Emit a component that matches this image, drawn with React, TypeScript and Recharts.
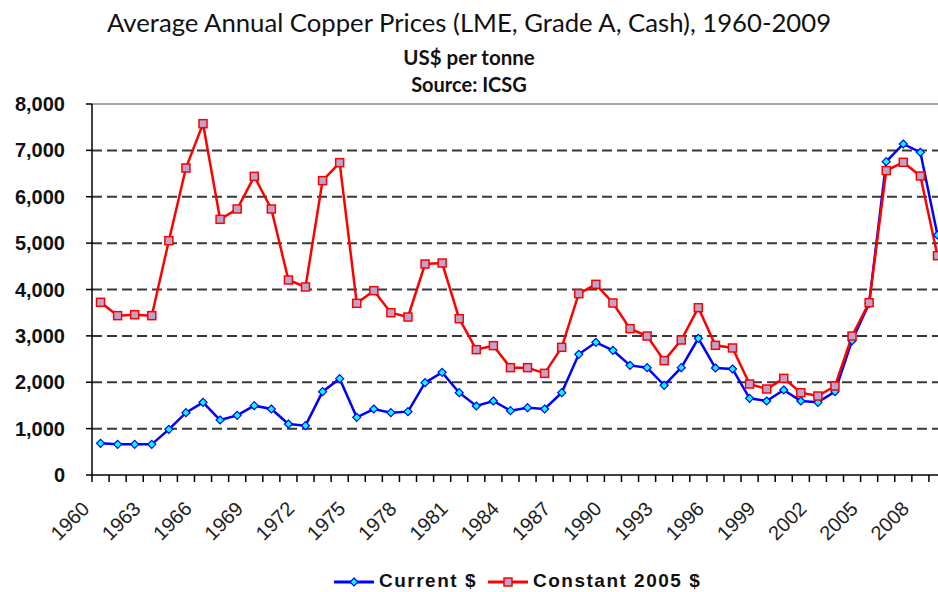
import React from 'react';
import { LineChart, Line, XAxis, YAxis, ReferenceLine } from 'recharts';

const years = [
  1960, 1961, 1962, 1963, 1964, 1965, 1966, 1967, 1968, 1969,
  1970, 1971, 1972, 1973, 1974, 1975, 1976, 1977, 1978, 1979,
  1980, 1981, 1982, 1983, 1984, 1985, 1986, 1987, 1988, 1989,
  1990, 1991, 1992, 1993, 1994, 1995, 1996, 1997, 1998, 1999,
  2000, 2001, 2002, 2003, 2004, 2005, 2006, 2007, 2008, 2009,
];

const currentPrices = [
  683, 661, 661, 661, 985, 1344, 1567, 1186, 1286, 1495,
  1423, 1100, 1064, 1797, 2078, 1243, 1423, 1344, 1366, 1991,
  2214, 1775, 1488, 1596, 1387, 1452, 1423, 1775, 2602, 2861,
  2688, 2364, 2315, 1934, 2315, 2947, 2307, 2286, 1653, 1596,
  1833, 1596, 1567, 1797, 2897, 3702, 6757, 7138, 6958, 5175,
];

const constantPrices = [
  3724, 3436, 3457, 3436, 5053, 6620, 7576, 5513, 5736, 6440,
  5736, 4205, 4054, 6347, 6735, 3702, 3975, 3500, 3407, 4550,
  4571, 3371, 2703, 2789, 2315, 2315, 2192, 2753, 3910, 4111,
  3709, 3156, 2997, 2466, 2911, 3608, 2796, 2739, 1962, 1854,
  2084, 1775, 1703, 1919, 2997, 3716, 6563, 6743, 6448, 4729,
];

const yTicks = [0, 1000, 2000, 3000, 4000, 5000, 6000, 7000, 8000];
const dashedGridValues = [1000, 2000, 3000, 4000, 5000, 6000, 7000];
const topBorderValue = 8000;
const xLabelYears = [1960, 1963, 1966, 1969, 1972, 1975, 1978, 1981, 1984, 1987, 1990, 1993, 1996, 1999, 2002, 2005, 2008];

const seriesNames = { current: 'Current $', constant: 'Constant 2005 $' };

const BLUE = '#0000FF';
const CYAN = '#00FFFF';
const RED = '#FF0000';
const LAVENDER = '#BFA3CF';

const data = years.map((year, i) => ({ year, current: currentPrices[i], constant: constantPrices[i] }));
const boundaryTicks = [...years.map((y) => y - 0.5), years[years.length - 1] + 0.5];
const xTicks = [...boundaryTicks, ...xLabelYears].sort((a, b) => a - b);

const FONT = '"Liberation Sans", Arial, sans-serif';

const XTick = (props: any) => {
  const { x, y, payload } = props;
  const v = payload.value;
  if (!Number.isInteger(v)) {
    return <line x1={x} y1={y} x2={x} y2={y + 7} stroke="#000" strokeWidth={1.5} />;
  }
  const px = x - 10;
  const py = y + 35;
  return (
    <text
      x={px}
      y={py}
      transform={`rotate(-45 ${px} ${py})`}
      textAnchor="end"
      fontSize={20}
      fontFamily={FONT}
      fill="#222"
    >
      {v}
    </text>
  );
};

const renderDiamond = (p: any) => {
  const { cx, cy, index } = p;
  if (cx == null || cy == null) return <g key={`d${index}`} />;
  const s = 4;
  return (
    <polygon
      key={`d${index}`}
      points={`${cx},${cy - s} ${cx + s},${cy} ${cx},${cy + s} ${cx - s},${cy}`}
      fill={CYAN}
      stroke={BLUE}
      strokeWidth={1.2}
    />
  );
};

const renderSquare = (p: any) => {
  const { cx, cy, index } = p;
  if (cx == null || cy == null) return <g key={`s${index}`} />;
  const s = 4;
  return (
    <rect key={`s${index}`} x={cx - s} y={cy - s} width={2 * s} height={2 * s} fill={LAVENDER} stroke={RED} strokeWidth={1.5} />
  );
};

const Legend = () => (
  <svg width={938} height={52} style={{ position: 'absolute', left: 0, top: 540 }}>
    <line x1={334} y1={42} x2={374} y2={42} stroke={BLUE} strokeWidth={3} />
    {renderDiamond({ cx: 354, cy: 42, index: 'l1' })}
    <text x={379} y={47} fontSize={19} fontWeight="bold" fontFamily={FONT} letterSpacing={1.5} fill="#111">
      {seriesNames.current}
    </text>
    <line x1={488} y1={42} x2={528} y2={42} stroke={RED} strokeWidth={3} />
    {renderSquare({ cx: 508, cy: 42, index: 'l2' })}
    <text x={533} y={47} fontSize={19} fontWeight="bold" fontFamily={FONT} letterSpacing={1.5} fill="#111">
      {seriesNames.constant}
    </text>
  </svg>
);

const titleBase: React.CSSProperties = {
  position: 'absolute',
  left: 0,
  width: 938,
  textAlign: 'center',
  fontFamily: 'Lato, "Open Sans", sans-serif',
  color: '#111',
  whiteSpace: 'nowrap',
};

export default function App() {
  return (
    <div style={{ position: 'absolute', left: 0, top: 0, width: 938, height: 592, overflow: 'hidden', background: '#fff' }}>
      <div style={{ ...titleBase, top: 6, fontSize: 25.7, lineHeight: '32px' }}>
        Average Annual Copper Prices (LME, Grade A, Cash), 1960-2009
      </div>
      <div style={{ ...titleBase, top: 44, fontSize: 20.5, lineHeight: '26px', fontWeight: 'bold' }}>US$ per tonne</div>
      <div style={{ ...titleBase, top: 71, fontSize: 20, lineHeight: '26px', fontWeight: 'bold' }}>Source: ICSG</div>
      <div style={{ position: 'absolute', left: 0, top: 0 }}>
        <LineChart width={960} height={592} data={data} margin={{ top: 104, right: 14, bottom: 0, left: 0 }}>
          <XAxis
            dataKey="year"
            type="number"
            domain={[1959.5, 2009.5]}
            ticks={xTicks}
            interval={0}
            allowDataOverflow
            tick={<XTick />}
            tickLine={false}
            tickSize={0}
            tickMargin={0}
            axisLine={{ stroke: '#000', strokeWidth: 1.5 }}
            height={117}
          />
          <YAxis
            type="number"
            domain={[0, 8000]}
            ticks={yTicks}
            interval={0}
            width={92}
            tickSize={6}
            tickMargin={21}
            tickFormatter={(v: number) => v.toLocaleString('en-US')}
            tick={{ fill: '#111', fontSize: 20, fontWeight: 'bold', fontFamily: FONT }}
            tickLine={{ stroke: '#000', strokeWidth: 1.5 }}
            axisLine={{ stroke: '#000', strokeWidth: 1.5 }}
          />
          <ReferenceLine y={topBorderValue} stroke="#A6A6A6" strokeWidth={2} />
          {dashedGridValues.map((v) => (
            <ReferenceLine key={v} y={v} stroke="#383838" strokeWidth={2} strokeDasharray="10 5" />
          ))}
          <Line
            dataKey="current"
            name={seriesNames.current}
            stroke={BLUE}
            strokeWidth={2.5}
            dot={renderDiamond}
            activeDot={false}
            isAnimationActive={false}
          />
          <Line
            dataKey="constant"
            name={seriesNames.constant}
            stroke={RED}
            strokeWidth={2.5}
            dot={renderSquare}
            activeDot={false}
            isAnimationActive={false}
          />
        </LineChart>
      </div>
      <Legend />
    </div>
  );
}
